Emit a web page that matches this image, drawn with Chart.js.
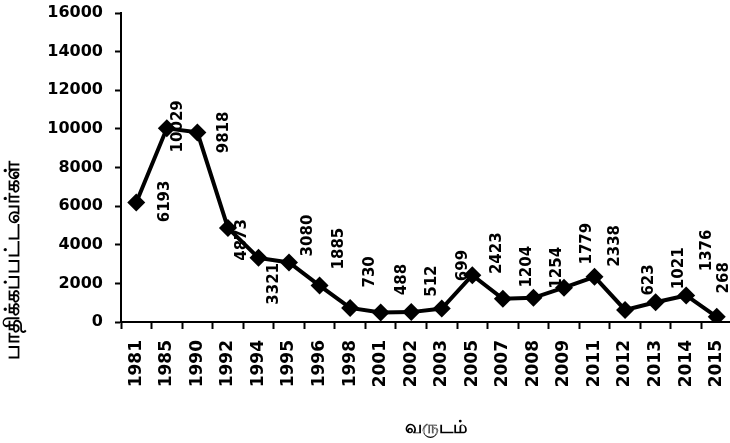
<!DOCTYPE html>
<html>
<head>
<meta charset="utf-8">
<script src="https://cdn.jsdelivr.net/npm/chart.js@4/dist/chart.umd.min.js"></script>
<style>
  html, body { margin: 0; padding: 0; background: #fff; overflow: hidden; }
  #wrap { width: 741px; height: 443px; position: relative; }
</style>
</head>
<body>
<div id="wrap"><canvas id="chart"></canvas></div>
<script>
// data
const years = ['1981', '1985', '1990', '1992', '1994', '1995', '1996', '1998', '2001', '2002',
               '2003', '2005', '2007', '2008', '2009', '2011', '2012', '2013', '2014', '2015'];
const affected = [6193, 10029, 9818, 4873, 3321, 3080, 1885, 730, 488, 512,
                  699, 2423, 1204, 1254, 1779, 2338, 623, 1021, 1376, 268];
const yTicks = [0, 2000, 4000, 6000, 8000, 10000, 12000, 14000, 16000];

const xTitle = 'வருடம்';
const yTitle = 'பாதிக்கப்பட்டவர்கள்';

// label nudges (px) relative to each point, as placed in the original
const labelShift = [
    [29, -1], [11, -2], [27, 0], [14, 12], [16, 26], [19, -27], [20, -37], [20, -36],
    [21, -33], [21, -31], [21, -43], [25, -22], [24, -32], [24, -30], [23, -44],
    [21, -31], [24, -30], [23, -34], [21, -45], [7, -39]
];

const FONT = '"DejaVu Sans", Verdana, sans-serif';

// value labels plus the two axis titles
const annotate = {
    id: 'annotate',
    afterDatasetsDraw(chart) {
        const ctx = chart.ctx;
        const meta = chart.getDatasetMeta(0);
        ctx.save();
        ctx.font = 'bold 15px ' + FONT;
        ctx.fillStyle = '#000';
        ctx.textAlign = 'center';
        ctx.textBaseline = 'middle';
        meta.data.forEach((pt, i) => {
            const s = labelShift[i] || [20, -30];
            ctx.save();
            ctx.translate(pt.x + s[0], pt.y + s[1]);
            ctx.rotate(-Math.PI / 2);
            ctx.fillText(String(affected[i]), 0, 0);
            ctx.restore();
        });
        ctx.restore();
    },
    afterDraw(chart) {
        const ctx = chart.ctx;
        const area = chart.chartArea;
        ctx.save();
        ctx.fillStyle = '#000';
        ctx.textAlign = 'center';
        ctx.textBaseline = 'middle';
        ctx.font = 'bold 18px ' + FONT;
        ctx.fillText(xTitle, (area.left + area.right) / 2 + 9, area.bottom + 106);
        ctx.translate(14, (area.top + area.bottom) / 2 + 93);
        ctx.rotate(-Math.PI / 2);
        ctx.font = 'bold 21px ' + FONT;
        ctx.fillText(yTitle, 0, 0);
        ctx.restore();
    }
};

const ctx = document.getElementById('chart').getContext('2d');
new Chart(ctx, {
    type: 'line',
    data: {
        labels: years,
        datasets: [{
            data: affected,
            borderColor: '#000',
            borderWidth: 4,
            backgroundColor: '#000',
            pointStyle: 'rectRot',
            pointRadius: 9,
            pointHoverRadius: 9,
            pointBackgroundColor: '#000',
            pointBorderColor: '#000',
            pointBorderWidth: 0,
            tension: 0
        }]
    },
    options: {
        responsive: true,
        maintainAspectRatio: false,
        animation: false,
        events: [],
        layout: { padding: { top: 13, right: 0, left: 8, bottom: 0 } },
        plugins: {
            legend: { display: false },
            tooltip: { enabled: false }
        },
        scales: {
            x: {
                type: 'category',
                offset: true,
                afterFit(scale) {
                    scale.height = 121;
                    scale.paddingLeft = 0;
                    scale.paddingRight = 0;
                },
                grid: {
                    offset: true,
                    drawOnChartArea: false,
                    drawTicks: true,
                    tickLength: 7,
                    tickWidth: 2,
                    tickColor: '#000'
                },
                border: { color: '#000', width: 2 },
                ticks: {
                    color: '#000',
                    font: { family: FONT, size: 17, weight: 'bold' },
                    minRotation: 90,
                    maxRotation: 90,
                    autoSkip: false,
                    padding: 11
                }
            },
            y: {
                min: 0,
                max: 16000,
                afterBuildTicks(scale) {
                    scale.ticks = yTicks.map(v => ({ value: v }));
                },
                afterFit(scale) {
                    scale.width = 113;
                    scale.paddingTop = 0;
                    scale.paddingBottom = 0;
                },
                grid: {
                    drawOnChartArea: false,
                    drawTicks: true,
                    tickLength: 6,
                    tickWidth: 2,
                    tickColor: '#000'
                },
                border: { color: '#000', width: 2 },
                ticks: {
                    color: '#000',
                    font: { family: FONT, size: 16, weight: 'bold' },
                    padding: 12,
                    callback: v => String(v)
                }
            }
        }
    },
    plugins: [annotate]
});
</script>
</body>
</html>
